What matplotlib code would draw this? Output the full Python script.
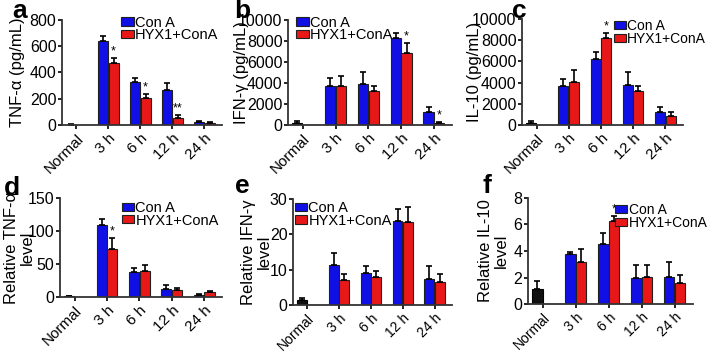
import matplotlib
matplotlib.use("Agg")
import matplotlib.pyplot as plt
import numpy as np

plt.rcParams['font.family'] = ['Liberation Sans', 'DejaVu Sans']

groups = ['Normal', '3 h', '6 h', '12 h', '24 h']

# panel a: TNF-a (pg/mL)
a_normal, a_normal_err = 2, 2
a_cona = [640, 330, 265, 25]
a_cona_err = [35, 25, 55, 8]
a_hyx = [470, 208, 56, 18]
a_hyx_err = [38, 28, 20, 4]
a_stars = ['*', '*', '**', '']

# panel b: IFN-y (pg/mL)
b_normal, b_normal_err = 220, 190
b_cona = [3710, 3870, 8250, 1200]
b_cona_err = [730, 1210, 480, 550]
b_hyx = [3700, 3270, 6860, 220]
b_hyx_err = [970, 480, 980, 100]
b_stars = ['', '', '*', '*']

# panel c: IL-10 (pg/mL)
c_normal, c_normal_err = 220, 190
c_cona = [3680, 6230, 3770, 1195]
c_cona_err = [690, 690, 1200, 535]
c_hyx = [4090, 8180, 3240, 880]
c_hyx_err = [1100, 470, 470, 350]
c_stars = ['', '*', '', '']

# panel d: relative TNF-a
d_normal, d_normal_err = 1, 0.6
d_cona = [109, 38, 12, 3.5]
d_cona_err = [9, 6, 6, 1]
d_hyx = [73, 39, 11, 7]
d_hyx_err = [17, 9, 3, 1.5]
d_stars = ['*', '', '', '']

# panel e: relative IFN-y
e_normal, e_normal_err = 1.4, 0.5
e_cona = [11.3, 9.0, 23.9, 7.3]
e_cona_err = [3.3, 2.0, 3.2, 3.8]
e_hyx = [7.1, 8.0, 23.4, 6.4]
e_hyx_err = [1.6, 1.7, 4.3, 2.3]
e_stars = ['', '', '', '']

# panel f: relative IL-10
f_normal, f_normal_err = 1.16, 0.55
f_cona = [3.8, 4.55, 1.96, 2.04]
f_cona_err = [0.12, 0.83, 0.98, 1.1]
f_hyx = [3.14, 6.24, 2.04, 1.56]
f_hyx_err = [1.04, 0.38, 0.9, 0.65]
f_stars = ['', '*', '', '']

BLUE = '#1010e6'
RED = '#e81818'
w = 0.31


def panel(ax, normal, normal_err, cona, cona_err, hyx, hyx_err, stars,
          ymax, ystep, ylabel, ylab_x, leg_xy, xt_size=11, leg_size=10.5):
    x = np.arange(1, 5)
    ekw = dict(fmt='none', ecolor='black', capsize=2.5, elinewidth=1.2, capthick=1.2)
    ax.bar(0 - w / 2 - 0.01, normal, w, color='#111111', edgecolor='black', lw=0.8)
    ax.errorbar([0 - w / 2 - 0.01], [normal], yerr=[[0], [normal_err]], **ekw)
    ax.bar(x - w / 2 - 0.01, cona, w, color=BLUE, edgecolor='#202020', lw=0.8,
           label='Con A')
    ax.bar(x + w / 2 + 0.01, hyx, w, color=RED, edgecolor='#202020', lw=0.8,
           label='HYX1+ConA')
    ax.errorbar(x - w / 2 - 0.01, cona, yerr=[np.zeros(4), cona_err], **ekw)
    ax.errorbar(x + w / 2 + 0.01, hyx, yerr=[np.zeros(4), hyx_err], **ekw)
    for xi, h, e, s in zip(x, hyx, hyx_err, stars):
        if s:
            ax.text(xi + w / 2 + 0.01, h + e + ymax * 0.005, s, ha='center', va='bottom',
                    fontsize=9)
    ax.set_xlim(-0.45, 4.55)
    ax.set_ylim(0, ymax)
    ax.set_yticks(np.arange(0, ymax + 1e-9, ystep))
    ax.set_xticks(range(5))
    ax.set_xticklabels(groups, rotation=45, ha='right', rotation_mode='anchor', fontsize=xt_size)
    ax.tick_params(axis='y', labelsize=11.5, length=3, width=1.2, pad=1)
    ax.tick_params(axis='x', length=3, width=1.2, pad=1.5)
    for sp in ['top', 'right']:
        ax.spines[sp].set_visible(False)
    for sp in ['left', 'bottom']:
        ax.spines[sp].set_linewidth(1.3)
        ax.spines[sp].set_color('#333333')
    ax.set_ylabel(ylabel, fontsize=12, linespacing=1.05)
    ax.yaxis.set_label_coords(ylab_x, 0.5)
    ax.legend(loc='upper left', bbox_to_anchor=leg_xy, frameon=False, fontsize=leg_size,
              handlelength=0.85, handleheight=0.5, handletextpad=0.1, labelspacing=-0.1,
              borderpad=0, borderaxespad=0)


fig = plt.figure(figsize=(7.09, 3.53), dpi=100)

ax_a = fig.add_axes([0.0874, 0.6459, 0.2257, 0.2975])
ax_b = fig.add_axes([0.4062, 0.6459, 0.2313, 0.2975])
ax_c = fig.add_axes([0.7363, 0.6459, 0.2271, 0.3003])
ax_d = fig.add_axes([0.0846, 0.1586, 0.2285, 0.2805])
ax_e = fig.add_axes([0.4133, 0.1360, 0.2243, 0.3003])
ax_f = fig.add_axes([0.7447, 0.1388, 0.2327, 0.3003])

panel(ax_a, a_normal, a_normal_err, a_cona, a_cona_err, a_hyx, a_hyx_err, a_stars,
      800, 200, 'TNF-α (pg/mL)', -0.23, (0.37, 1.04))
panel(ax_b, b_normal, b_normal_err, b_cona, b_cona_err, b_hyx, b_hyx_err, b_stars,
      10000, 2000, 'IFN-γ (pg/mL)', -0.24, (0.05, 1.04))
panel(ax_c, c_normal, c_normal_err, c_cona, c_cona_err, c_hyx, c_hyx_err, c_stars,
      10000, 2000, 'IL-10 (pg/mL)', -0.25, (0.57, 1.0), leg_size=10)
panel(ax_d, d_normal, d_normal_err, d_cona, d_cona_err, d_hyx, d_hyx_err, d_stars,
      150, 50, 'Relative TNF-α\nlevel', -0.155, (0.38, 0.97))
panel(ax_e, e_normal, e_normal_err, e_cona, e_cona_err, e_hyx, e_hyx_err, e_stars,
      30, 10, 'Relative IFN-γ\nlevel', -0.135, (0.01, 0.98), xt_size=10)
panel(ax_f, f_normal, f_normal_err, f_cona, f_cona_err, f_hyx, f_hyx_err, f_stars,
      8, 2, 'Relative IL-10\nlevel', -0.115, (0.53, 0.95), xt_size=10, leg_size=10)

for lbl, x, y in [('a', 0.017, 0.949), ('b', 0.331, 0.949), ('c', 0.722, 0.949),
                  ('d', 0.006, 0.448), ('e', 0.331, 0.453), ('f', 0.68, 0.453)]:
    fig.text(x, y, lbl, fontsize=19, fontweight='bold', va='baseline')

fig.savefig('out.png', dpi=100)
